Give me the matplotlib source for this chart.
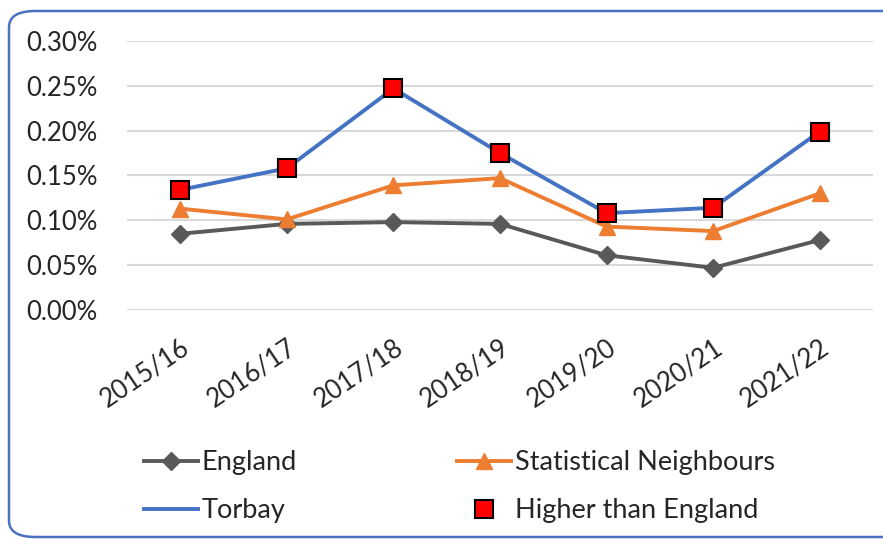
import matplotlib
matplotlib.use("Agg")
import matplotlib.pyplot as plt
from matplotlib.patches import FancyBboxPatch
from matplotlib.ticker import FuncFormatter

plt.rcParams["font.family"] = ["Lato", "DejaVu Sans"]

years = ["2015/16", "2016/17", "2017/18", "2018/19", "2019/20", "2020/21", "2021/22"]
england = [0.085, 0.096, 0.098, 0.096, 0.061, 0.047, 0.078]
neighbours = [0.113, 0.101, 0.139, 0.147, 0.093, 0.088, 0.130]
torbay = [0.134, 0.158, 0.247, 0.175, 0.108, 0.114, 0.199]
y_ticks = [0.0, 0.05, 0.10, 0.15, 0.20, 0.25, 0.30]

fig = plt.figure(figsize=(8.83, 5.39), dpi=100)
ax = fig.add_axes([0.1438, 0.4249, 0.8449, 0.4991])

x = list(range(len(years)))
ax.plot(x, england, color="#595959", linewidth=2.8, marker="D", markersize=9,
        label="England", zorder=3)
ax.plot(x, torbay, color="#4472C4", linewidth=2.8, label="Torbay", zorder=4)
ax.plot(x, neighbours, color="#ED7D31", linewidth=2.8, marker="^", markersize=11,
        label="Statistical Neighbours", zorder=3)

# Torbay points above the England value get a red square
higher_x = [i for i in x if torbay[i] > england[i]]
higher_y = [torbay[i] for i in higher_x]
ax.plot(higher_x, higher_y, linestyle="none", marker="s", markersize=12.5,
        markerfacecolor="#FF0000", markeredgecolor="black", markeredgewidth=1.5,
        label="Higher than England", zorder=5)

ax.set_xlim(-0.5, len(years) - 0.5)
ax.set_ylim(0, 0.30)
ax.set_yticks(y_ticks)
ax.yaxis.set_major_formatter(FuncFormatter(lambda v, _: f"{v:.2f}%"))
ax.set_xticks(x)
ax.set_xticklabels(years, rotation=34, ha="right", rotation_mode="anchor")
ax.tick_params(axis="both", length=0, labelsize=18.5, colors="#262626")
ax.tick_params(axis="x", pad=18)
ax.tick_params(axis="y", pad=21)
ax.grid(axis="y", color="#D9D9D9", linewidth=1.5)
ax.set_axisbelow(True)
for spine in ax.spines.values():
    spine.set_visible(False)

handles, labels = ax.get_legend_handles_labels()
leg = fig.legend(handles, labels,
                 ncol=2, loc="upper left", bbox_to_anchor=(0.135, 0.21),
                 frameon=False, fontsize=19.5, handlelength=2.0, handletextpad=0.14,
                 columnspacing=5.9, labelspacing=0.85, labelcolor="#262626")

# chart frame runs off the right edge of the picture
border = FancyBboxPatch((9 / 883, 2 / 539), 1.2, 1 - 13 / 539,
                        boxstyle="round,pad=0,rounding_size=0.03",
                        transform=fig.transFigure, fill=False,
                        edgecolor="#4A72C0", linewidth=1.8)
fig.patches.append(border)

fig.savefig("out.png", dpi=100)
